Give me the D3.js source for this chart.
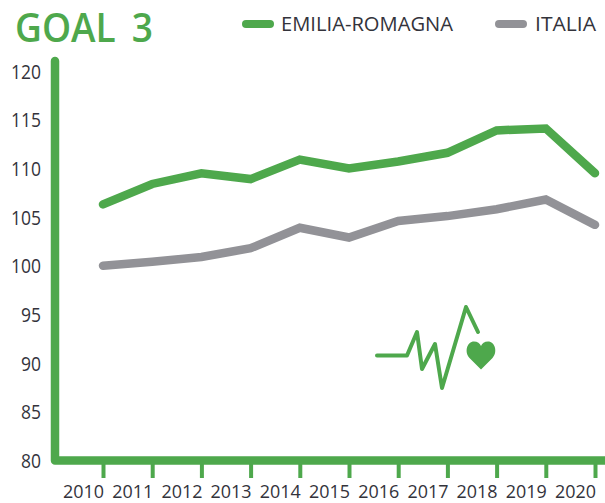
<!DOCTYPE html>
<html><head><meta charset="utf-8">
<script src="https://cdn.jsdelivr.net/npm/d3@7/dist/d3.min.js"></script>
<style>html,body{margin:0;background:#fff}svg{display:block}text{font-family:"Open Sans",sans-serif}</style>
</head><body><svg id="c" width="605" height="503"></svg>
<script>
const years = [2010,2011,2012,2013,2014,2015,2016,2017,2018,2019,2020];
const emilia = [106.3,108.4,109.5,108.9,110.9,110.0,110.7,111.6,113.9,114.1,109.5];
const italia = [100.0,100.4,100.9,101.8,103.9,102.9,104.6,105.1,105.8,106.8,104.2];
const yTicks = [80,85,90,95,100,105,110,115,120];
const seriesNames = ["EMILIA-ROMAGNA","ITALIA"];
const GREEN="#4ea84c", GREY="#929297", INK="#33333b";
const svg=d3.select("#c");
const x=d3.scalePoint().domain(years).range([103,595]);
const y=d3.scaleLinear().domain([80,120]).range([460.5,71]);

// y axis
const gy=svg.append("g").attr("transform","translate(55,0)")
  .call(d3.axisLeft(y).tickValues(yTicks).tickSize(0).tickPadding(14));
gy.select(".domain").remove();
gy.selectAll("text").attr("fill",INK).style("font-size","19.5px").attr("dy","0.36em")
  .attr("textLength",d=>d>=100?30:20).attr("lengthAdjust","spacingAndGlyphs");

// x axis
const gx=svg.append("g").attr("transform","translate(0,460.5)")
  .call(d3.axisBottom(x).tickSize(17.5).tickPadding(0).tickFormat(d3.format("d")));
gx.select(".domain").remove();
gx.selectAll("line").attr("stroke",GREEN).attr("stroke-width",4).attr("stroke-linecap","butt");
gx.selectAll("text").attr("fill",INK).style("font-size","18.5px")
  .attr("y",37).attr("dy",0).attr("dx",-20)
  .attr("textLength",41).attr("lengthAdjust","spacingAndGlyphs");

// axis frame
svg.append("path").attr("fill","none").attr("stroke",GREEN).attr("stroke-width",8.5)
  .attr("stroke-linejoin","round").attr("stroke-linecap","round")
  .attr("d",d3.line()([[55,y(120)-10],[55,y(80)],[612,y(80)]]));

// series
const line=d3.line().x((d,i)=>x(years[i])).y(d=>y(d));
[[italia,GREY],[emilia,GREEN]].forEach(([vals,col])=>{
  svg.append("path").datum(vals).attr("d",line).attr("fill","none").attr("stroke",col)
    .attr("stroke-width",8.5).attr("stroke-linejoin","miter").attr("stroke-linecap","round");
});

// title
svg.append("text").attr("x",15).attr("y",42).attr("fill",GREEN)
  .style("font-size","40px").style("font-weight","600").style("word-spacing","7px")
  .attr("textLength",138).attr("lengthAdjust","spacingAndGlyphs").text("GOAL 3");

// legend
const legendStart=[246,499], legendText=[281,535], legendWidth=[172,61], legendColor=[GREEN,GREY];
seriesNames.forEach((n,i)=>{
  svg.append("line").attr("x1",legendStart[i]).attr("x2",legendStart[i]+24).attr("y1",24).attr("y2",24)
    .attr("stroke",legendColor[i]).attr("stroke-width",8).attr("stroke-linecap","round");
  svg.append("text").attr("x",legendText[i]).attr("y",31).attr("fill",INK).style("font-size","20.5px")
    .attr("textLength",legendWidth[i]).attr("lengthAdjust","spacingAndGlyphs").text(n);
});

// heartbeat icon
svg.append("path").attr("fill","none").attr("stroke",GREEN).attr("stroke-width",4)
  .attr("stroke-linecap","round").attr("stroke-linejoin","round")
  .attr("d","M377,355.5H407L417,332L422,369L435,344L442,388L466,307L478,332");
svg.append("path").attr("fill",GREEN)
  .attr("d","M481,369.5L469.5,358C464,352 467,341.5 474,341.5C477.5,341.5 480,343.5 481,346C482,343.5 484.5,341.5 488,341.5C495,341.5 498,352 492.5,358Z");
</script></body></html>
